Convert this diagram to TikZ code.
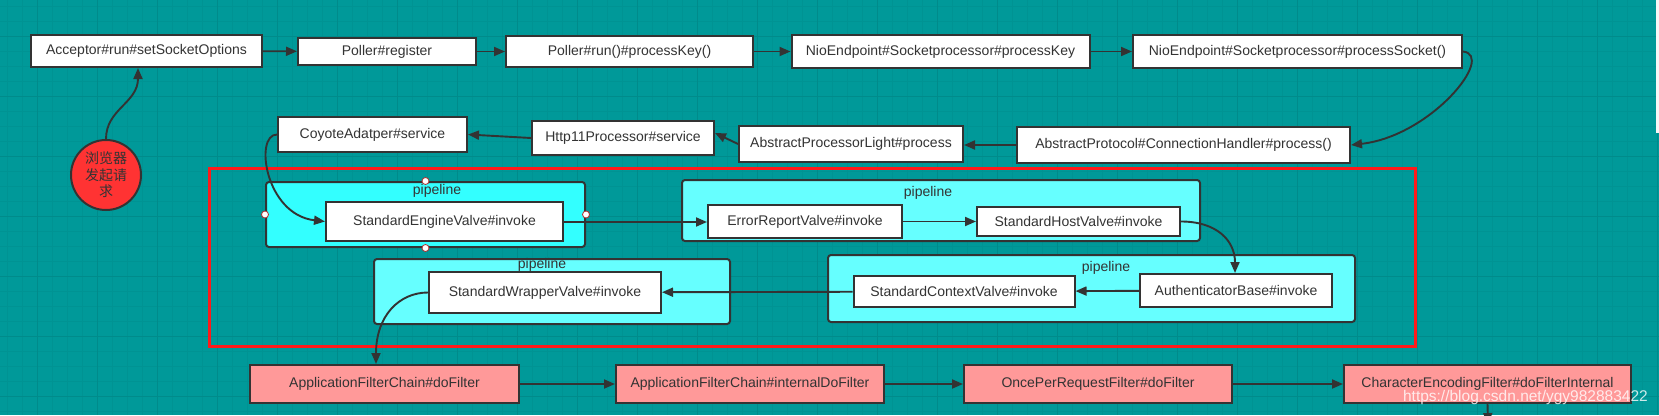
\documentclass[tikz,border=0pt]{standalone}
\usepackage{fontspec}
\setmainfont{Liberation Sans}
\newfontfamily\cjk{Noto Sans CJK SC}
\usetikzlibrary{arrows.meta}
\definecolor{bg}{HTML}{009999}
\definecolor{gridminor}{HTML}{009393}
\definecolor{gridmajor}{HTML}{008B8B}
\definecolor{ink}{HTML}{333333}
\definecolor{pipeA}{HTML}{33FFFF}
\definecolor{pipeB}{HTML}{66FFFF}
\definecolor{filt}{HTML}{FF9999}
\definecolor{circfill}{HTML}{FF3333}
\definecolor{redframe}{HTML}{FF1A1A}
\definecolor{handle}{HTML}{B03030}
\begin{document}
\begin{tikzpicture}[x=1pt,y=-1pt,
  every node/.style={font=\fontsize{14}{16}\selectfont, text=ink},
  box/.style={draw=ink, line width=2pt, fill=white, inner sep=0pt},
  fbox/.style={box, fill=filt},
  pipe/.style={draw=ink, line width=2pt, rounded corners=3pt, inner sep=0pt},
  plabel/.style={inner sep=0pt},
  conn/.style={draw=ink, line width=1.9pt, -{Triangle[length=11pt,width=9pt]}},
  hdl/.style={circle, draw=handle, fill=white, line width=0.8pt, minimum size=7pt, inner sep=0pt}
]
\useasboundingbox (0,0) rectangle (1659,415);
\clip (0,0) rectangle (1659,415);
\fill[bg] (0,0) rectangle (1659,415);
\foreach \x in {7,22,...,1657} \draw[gridminor, line width=0.8pt] (\x,0) -- (\x,415);
\foreach \y in {6,21,...,411} \draw[gridminor, line width=0.8pt] (0,\y) -- (1659,\y);
\foreach \x in {37,97,...,1657} \draw[gridmajor, line width=1pt] (\x,0) -- (\x,415);
\foreach \y in {36,96,...,411} \draw[gridmajor, line width=1pt] (0,\y) -- (1659,\y);
\fill[white!94!gray] (1656,0) rectangle (1659,133);

% top row
\node[box, minimum width=231pt, minimum height=32pt] (a1) at (146.5,51) {Acceptor\#run\#setSocketOptions};
\node[box, minimum width=178pt, minimum height=27pt] (a2) at (387,51.5) {Poller\#register};
\node[box, minimum width=247pt, minimum height=31pt] (a3) at (629.5,51.5) {Poller\#run()\#processKey()};
\node[box, minimum width=298pt, minimum height=33pt] (a4) at (940.5,51.5) {NioEndpoint\#Socketprocessor\#processKey};
\node[box, minimum width=329pt, minimum height=33pt] (a5) at (1297.5,51.5) {NioEndpoint\#Socketprocessor\#processSocket()};

% second row
\node[box, minimum width=189pt, minimum height=35pt] (coy) at (372.5,134.5) {CoyoteAdatper\#service};
\node[box, minimum width=182pt, minimum height=34pt] (http) at (623,138) {Http11Processor\#service};
\node[box, minimum width=224pt, minimum height=36pt] (apl) at (851,144) {AbstractProcessorLight\#process};
\node[box, minimum width=333pt, minimum height=36pt] (ap) at (1183.5,145) {AbstractProtocol\#ConnectionHandler\#process()};

% browser
\node[circle, draw=ink, line width=2pt, fill=circfill, minimum size=70pt, inner sep=0pt, align=center,
      font=\cjk\fontsize{14}{16.5}\selectfont] (circ) at (106,175) {浏览器\\发起请\\求};

% red frame
\draw[redframe, line width=3pt] (209,168) rectangle (1415,346);

% pipelines
\node[pipe, fill=pipeA, minimum width=319pt, minimum height=65pt] (p1) at (425.5,214.5) {};
\node[pipe, fill=pipeB, minimum width=518pt, minimum height=61pt] (p2) at (941,210.5) {};
\node[pipe, fill=pipeB, minimum width=356pt, minimum height=65pt] (p3) at (552,291.5) {};
\node[pipe, fill=pipeB, minimum width=527pt, minimum height=67pt] (p4) at (1091.5,288.5) {};
\node[plabel] (l1) at (437,191) {pipeline};
\node[plabel] (l2) at (928,193) {pipeline};
\node[plabel] (l3) at (542,265) {pipeline};
\node[plabel] (l4) at (1106,268) {pipeline};

% handles on first pipeline
\node[hdl] (h1) at (p1.north) {};
\node[hdl] (h2) at (p1.south) {};
\node[hdl] (h3) at (p1.west) {};
\node[hdl] (h4) at (p1.east) {};

% valves
\node[box, minimum width=237pt, minimum height=39pt] (sev) at (444.5,221.5) {StandardEngineValve\#invoke};
\node[box, minimum width=194pt, minimum height=33pt] (erv) at (805,221.5) {ErrorReportValve\#invoke};
\node[box, minimum width=203pt, minimum height=29pt] (shv) at (1078.5,221.5) {StandardHostValve\#invoke};
\node[box, minimum width=232pt, minimum height=41pt] (swv) at (545,292.5) {StandardWrapperValve\#invoke};
\node[box, minimum width=221pt, minimum height=31pt] (scv) at (964,291.5) {StandardContextValve\#invoke};
\node[box, minimum width=192pt, minimum height=33pt] (ab) at (1236,290.5) {AuthenticatorBase\#invoke};

% filters
\node[fbox, minimum width=269pt, minimum height=38pt] (f1) at (384.5,384) {ApplicationFilterChain\#doFilter};
\node[fbox, minimum width=268pt, minimum height=38pt] (f2) at (750,384) {ApplicationFilterChain\#internalDoFilter};
\node[fbox, minimum width=268pt, minimum height=38pt] (f3) at (1098,384) {OncePerRequestFilter\#doFilter};
\node[fbox, minimum width=287pt, minimum height=38pt] (f4) at (1487.5,384) {CharacterEncodingFilter\#doFilterInternal};
\coordinate (down) at (1488,424);

% connectors
\draw[conn] (circ.north) .. controls +(0,-30) and +(0,35) .. ([xshift=-8.5pt]a1.south);
\draw[conn] (a1) -- (a2);
\draw[conn] (a2) -- (a3);
\draw[conn] (a3) -- (a4);
\draw[conn] (a4) -- (a5);
\draw[conn] (a5.east) .. controls +(33,4) and +(80,-9) .. (ap.east);
\draw[conn] (ap.west) -- (apl.east |- ap.west);
\draw[conn] (apl.west) -- ([yshift=5pt]http.east);
\draw[conn] (http.west) -- (coy.east);
\draw[conn] (coy.west) .. controls +(-23,0) and +(-60,-7) .. (sev.west);
\draw[conn] ([yshift=-0.5pt]sev.east) -- ([yshift=-0.5pt]erv.west);
\draw[conn] (erv) -- (shv);
\draw[conn] (shv.east) .. controls +(35,0) and +(0,-33) .. ([xshift=-1pt]ab.north);
\draw[conn] (ab) -- (scv);
\draw[conn] (scv) -- (swv);
\draw[conn] (swv.west) .. controls +(-29,0) and +(0,-48) .. ([xshift=-8.5pt]f1.north);
\draw[conn] (f1) -- (f2);
\draw[conn] (f2) -- (f3);
\draw[conn] (f3) -- (f4);
\draw[conn] (f4.south) -- (down);

% watermark
\node[anchor=east, text=white, text opacity=0.8, inner sep=0pt, font=\fontsize{15.5}{18}\selectfont] (wm) at (1648,397) {https://blog.csdn.net/ygy982883422};
\end{tikzpicture}
\end{document}
